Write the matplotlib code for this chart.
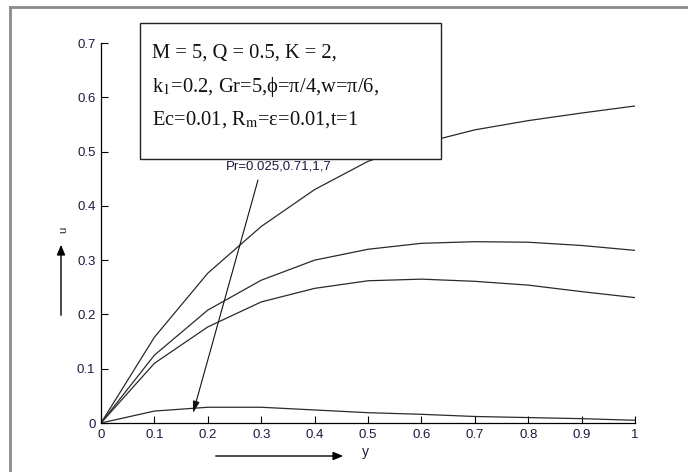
import matplotlib
matplotlib.use("Agg")
import matplotlib.pyplot as plt
from matplotlib.patches import Rectangle
from matplotlib.lines import Line2D

y_vals = [0, 0.1, 0.2, 0.3, 0.4, 0.5, 0.6, 0.7, 0.8, 0.9, 1.0]
u_pr0025 = [0, 0.158, 0.276, 0.362, 0.430, 0.482, 0.515, 0.540, 0.557, 0.571, 0.584]
u_pr071 = [0, 0.125, 0.208, 0.263, 0.300, 0.320, 0.331, 0.334, 0.333, 0.327, 0.318]
u_pr1 = [0, 0.110, 0.177, 0.223, 0.248, 0.262, 0.265, 0.261, 0.254, 0.242, 0.231]
u_pr7 = [0, 0.022, 0.029, 0.029, 0.024, 0.019, 0.016, 0.012, 0.010, 0.008, 0.005]
series = [u_pr0025, u_pr071, u_pr1, u_pr7]

xticks = [0, 0.1, 0.2, 0.3, 0.4, 0.5, 0.6, 0.7, 0.8, 0.9, 1]
xticklabels = ["0", "0.1", "0.2", "0.3", "0.4", "0.5", "0.6", "0.7", "0.8", "0.9", "1"]
yticks = [0, 0.1, 0.2, 0.3, 0.4, 0.5, 0.6, 0.7]
yticklabels = ["0", "0.1", "0.2", "0.3", "0.4", "0.5", "0.6", "0.7"]

box_lines = ["M = 5, Q = 0.5, K = 2,",
             r"k$_1$=0.2, Gr=5,ϕ=π/4,w=π/6,",
             r"Ec=0.01, R$_\mathrm{m}$=ε=0.01,t=1"]
annot_text = "Pr=0.025,0.71,1,7"

plt.rcParams['font.family'] = ['Liberation Sans', 'DejaVu Sans']
plt.rcParams['mathtext.fontset'] = 'stix'

W, H = 688, 472
fig = plt.figure(figsize=(W / 100, H / 100), dpi=100)
fig.patch.set_facecolor('white')

ax = fig.add_axes([101 / W, 1 - 423 / H, (635 - 101) / W, (423 - 43) / H])
for s in series:
    ax.plot(y_vals, s, color='#2a2a2a', lw=0.9, zorder=2)

ax.set_xlim(0, 1)
ax.set_ylim(0, 0.7)
ax.set_xticks(xticks)
ax.set_xticklabels(xticklabels)
ax.set_yticks(yticks)
ax.set_yticklabels(yticklabels)
ax.spines['top'].set_visible(False)
ax.spines['right'].set_visible(False)
for sp in ['left', 'bottom']:
    ax.spines[sp].set_linewidth(0.9)
ax.tick_params(direction='in', length=5, width=0.8, labelsize=9.5,
               labelcolor='#1a1a40', pad=4)
ax.patch.set_alpha(0)

# Annotation text and arrow
ax.text(0.333, 0.4716, annot_text, ha='center', va='center', fontsize=9.5,
        color='#1a1a40', zorder=3)
ax.annotate('', xy=(0.1723, 0.0184), xytext=(0.294, 0.4476),
            arrowprops=dict(arrowstyle='-|>,head_length=0.7,head_width=0.2',
                            color='#111111', lw=0.8, shrinkA=0, shrinkB=0),
            zorder=3)

# Parameter box (figure coords)
rect = Rectangle((140 / W, 1 - 159 / H), (441 - 140) / W, (159 - 23) / H,
                 transform=fig.transFigure, facecolor='white',
                 edgecolor='#222222', lw=1.0, zorder=5)
fig.patches.append(rect)
for txt, py in zip(box_lines, [53, 87, 120]):
    fig.text(152 / W, 1 - py / H, txt, ha='left', va='center', fontsize=14.8,
             family=['Liberation Serif', 'DejaVu Serif'], color='#111111',
             zorder=6)

# Axis label arrows
fig.add_artist(matplotlib.patches.FancyArrowPatch(
    (61 / W, 1 - 318 / H), (61 / W, 1 - 242 / H), transform=fig.transFigure,
    arrowstyle='-|>,head_length=0.6,head_width=0.25', color='black', lw=1.0,
    mutation_scale=10))
fig.text(63 / W, 1 - 230 / H, 'u', rotation=90, ha='center', va='center',
         fontsize=8, color='#1a1a40')
fig.add_artist(matplotlib.patches.FancyArrowPatch(
    (213 / W, 1 - 456 / H), (346 / W, 1 - 456 / H), transform=fig.transFigure,
    arrowstyle='-|>,head_length=0.6,head_width=0.25', color='black', lw=1.0,
    mutation_scale=10))
fig.text(365 / W, 1 - 452 / H, 'y', ha='center', va='center',
         fontsize=10, color='#1a1a40')

# Outer frame (left and top edges)
fig.add_artist(Line2D([10 / W, 10 / W], [0, 1 - 7 / H], transform=fig.transFigure,
                      color='#8a8a8a', lw=2))
fig.add_artist(Line2D([10 / W, 1], [1 - 7 / H, 1 - 7 / H], transform=fig.transFigure,
                      color='#8a8a8a', lw=2))

fig.savefig('out.png', dpi=100, facecolor='white')
